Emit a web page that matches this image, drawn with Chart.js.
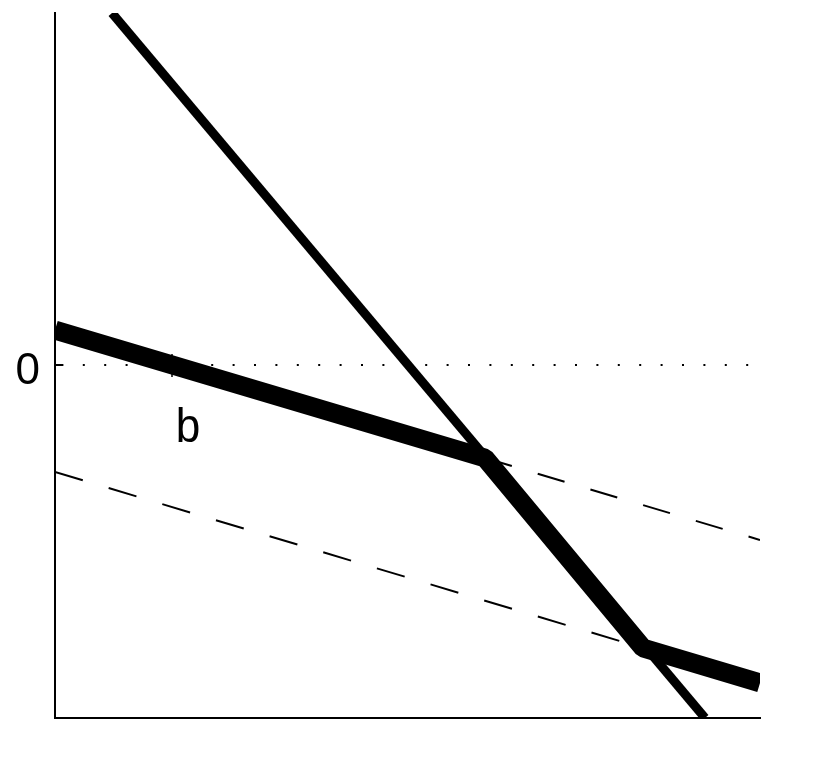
<!DOCTYPE html>
<html>
<head>
<meta charset="utf-8">
<script src="https://cdn.jsdelivr.net/npm/chart.js@4"></script>
<style>
  html, body { margin: 0; padding: 0; background: #fff; }
  #wrap { width: 816px; height: 775px; }
</style>
</head>
<body>
<div id="wrap"><canvas id="chart"></canvas></div>
<script>
// values are in plot units (0..705 both ways)
const steepX = [57, 650];
const steepY = [705, 0];
const thickX = [0, 430, 588, 705];
const thickY = [388, 260, 70, 35];
const dashUpperX = [430, 705];
const dashUpperY = [260, 178];
const dashLowerX = [0, 588];
const dashLowerY = [246, 70];
const zeroX = [0, 705];
const zeroY = [353, 353];
const yTicks = [353];
const yTickLabels = ['0'];
const bMarkX = [117, 117];
const bMarkY = [364, 341];
const bLabel = { x: 133, y: 276, text: 'b' };

function pts(xs, ys) {
    return xs.map((x, i) => ({ x: x, y: ys[i] }));
}

// draws the "0" tick label and the "b" label
const labelPlugin = {
    id: 'labelPlugin',
    afterDatasetsDraw(chart) {
        const ctx = chart.ctx;
        const xs = chart.scales.x, ys = chart.scales.y;
        ctx.save();
        ctx.fillStyle = '#000';
        ctx.textBaseline = 'alphabetic';

        ctx.font = '44px "Liberation Sans", Arial, sans-serif';
        ctx.textAlign = 'right';
        yTicks.forEach((v, i) => {
            ctx.fillText(yTickLabels[i], xs.left - 15, ys.getPixelForValue(v) + 19);
        });

        const px = xs.getPixelForValue(bLabel.x);
        const py = ys.getPixelForValue(bLabel.y);
        ctx.translate(px, py);
        ctx.scale(0.9, 1);
        ctx.font = '49px "Liberation Sans", Arial, sans-serif';
        ctx.textAlign = 'center';
        ctx.fillText(bLabel.text, 0, 0);
        ctx.restore();
    }
};

new Chart(document.getElementById('chart'), {
    type: 'scatter',
    data: {
        datasets: [
            {
                data: pts(zeroX, zeroY),
                showLine: true,
                borderColor: '#000',
                borderWidth: 2,
                borderDash: [2, 19.4],
                borderDashOffset: 15,
                pointRadius: 0
            },
            {
                data: pts(dashUpperX, dashUpperY),
                showLine: true,
                borderColor: '#000',
                borderWidth: 2,
                borderDash: [28, 27],
                pointRadius: 0
            },
            {
                data: pts(dashLowerX, dashLowerY),
                showLine: true,
                borderColor: '#000',
                borderWidth: 2,
                borderDash: [29, 27],
                pointRadius: 0
            },
            {
                data: pts(steepX, steepY),
                showLine: true,
                borderColor: '#000',
                borderWidth: 9,
                pointRadius: 0
            },
            {
                data: pts(thickX, thickY),
                showLine: true,
                borderColor: '#000',
                borderWidth: 19,
                borderJoinStyle: 'bevel',
                pointRadius: 0
            },
            {
                data: pts(bMarkX, bMarkY),
                showLine: true,
                borderColor: '#000',
                borderWidth: 1.5,
                pointRadius: 0
            },
            {
                data: pts([0, 8], [353, 353]),
                showLine: true,
                borderColor: '#000',
                borderWidth: 2,
                pointRadius: 0
            }
        ]
    },
    options: {
        responsive: true,
        maintainAspectRatio: false,
        animation: false,
        layout: { padding: { left: 0, top: 13, right: 56, bottom: 57 } },
        plugins: {
            legend: { display: false },
            tooltip: { enabled: false }
        },
        scales: {
            x: {
                type: 'linear',
                min: 0,
                max: 705,
                grid: { display: false },
                border: { display: true, color: '#000', width: 2 },
                ticks: { display: false },
                afterFit(scale) {
                    scale.height = 0;
                    scale.paddingLeft = 0;
                    scale.paddingRight = 0;
                }
            },
            y: {
                type: 'linear',
                min: 0,
                max: 705,
                grid: { display: false },
                border: { display: true, color: '#000', width: 2 },
                ticks: { display: false },
                afterFit(scale) {
                    scale.width = 55;
                    scale.paddingTop = 0;
                    scale.paddingBottom = 0;
                }
            }
        }
    },
    plugins: [labelPlugin]
});
</script>
</body>
</html>
